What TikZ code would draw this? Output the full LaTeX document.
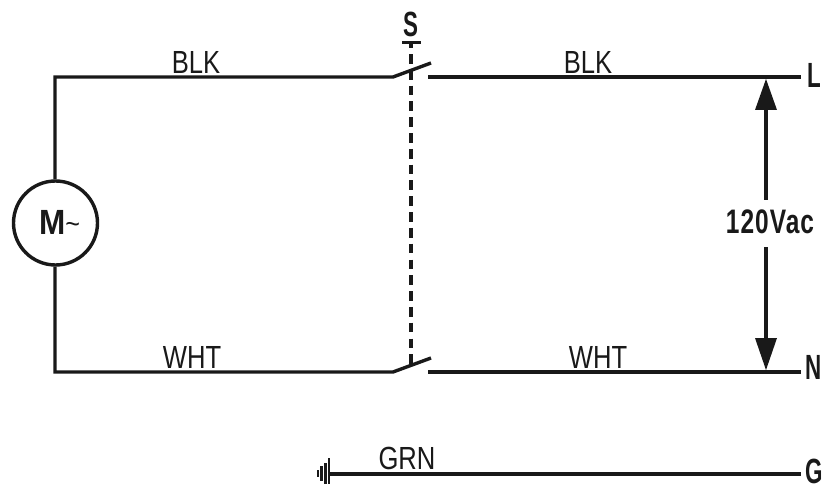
\documentclass[tikz,border=0pt]{standalone}
\usepackage{fontspec}
\setmainfont[FakeStretch=0.8]{Liberation Sans}
\newfontfamily\condfont[FakeStretch=0.64]{Liberation Sans}
\newfontfamily\voltfont[FakeStretch=0.72,LetterSpace=3]{Liberation Sans}
\newfontfamily\motfont[FakeStretch=0.9]{Liberation Sans}
\usetikzlibrary{calc}
\begin{document}
\begin{tikzpicture}[x=1pt,y=-1pt,
  wire/.style={line width=3.4pt,draw=black!90},
  lbl/.style={inner sep=0pt,font=\fontsize{32}{32}\selectfont,text=black!90},
  blbl/.style={inner sep=0pt,font=\fontsize{35}{35}\selectfont\condfont\bfseries,text=black!90},
  vlbl/.style={inner sep=0pt,font=\fontsize{34}{34}\selectfont\voltfont\bfseries,text=black!90},
  mlbl/.style={inner sep=0pt,font=\fontsize{35}{35}\selectfont\motfont\bfseries,text=black!90},
  motor/.style={circle,draw=black!90,line width=3.4pt,minimum size=84pt,inner sep=0pt},
  meas/.style={line width=4.5pt,draw=black!90},
  gbar/.style={line width=2.6pt,draw=black!90},
  headfill/.style={fill=black!90,draw=none}]
\useasboundingbox (0,0) rectangle (825,484);
\coordinate (tl) at (55,77);
\coordinate (bl) at (55,372);
\node[motor] (m) at (55.5,223) {};
\node[mlbl,anchor=base west] (mlabel) at (39,234) {M\raisebox{1pt}{\fontsize{28}{28}\selectfont\mdseries\textasciitilde}};
\coordinate (sw1a) at (393,77);
\coordinate (sw1b) at (431,63);
\coordinate (sw1c) at (428,77);
\coordinate (sw2a) at (393,372);
\coordinate (sw2b) at (431,358);
\coordinate (sw2c) at (428,372);
\coordinate (lend) at (801,77);
\coordinate (nend) at (801,372);
\coordinate (gstart) at (329,474);
\coordinate (gend) at (801,474);
% wires
\draw[wire] (m.north -| tl) -- (tl) -- (sw1a) -- (sw1b);
\draw[wire] (sw1c) -- (lend);
\draw[wire] (m.south -| bl) -- (bl) -- (sw2a) -- (sw2b);
\draw[wire] (sw2c) -- (nend);
\draw[wire] (gstart) -- (gend);
% ganged link
\coordinate (ta) at (402,42.5);
\coordinate (tb) at (421,42.5);
\coordinate (dt) at (411,44);
\coordinate (de) at (411,364);
\draw[wire] (ta) -- (tb);
\draw[wire,dash pattern=on 9.7pt off 6.1pt,dash phase=5.7pt] (dt) -- (de);
% ground
\draw[gbar] (329,458) -- (329,484);
\draw[gbar] (325.5,463) -- (325.5,484);
\draw[gbar] (321.7,466) -- (321.7,481);
\draw[gbar] (318,470) -- (318,477);
% voltage arrow
\coordinate (atop) at (766,79);
\coordinate (abot) at (766,370);
\coordinate (s1) at (766,200);
\coordinate (s2) at (766,247);
\draw[meas] ($(atop)+(0,25)$) -- (s1);
\draw[meas] (s2) -- ($(abot)+(0,-25)$);
\fill[headfill] (atop) -- (777,110) -- (755,110) -- cycle;
\fill[headfill] (abot) -- (777,338) -- (755,338) -- cycle;
% labels
\node[lbl] (blk1) at (196,62) {BLK};
\node[lbl] (blk2) at (588,62) {BLK};
\node[lbl] (wht1) at (192,357) {WHT};
\node[lbl] (wht2) at (598,357) {WHT};
\node[lbl] (grn) at (407,458) {GRN};
\node[blbl] (s) at (411,24) {S};
\node[blbl] (l) at (814,75) {L};
\node[blbl] (n) at (814,367.5) {N};
\node[blbl] (g) at (814,471) {G};
\node[vlbl] (v) at (770,221.5) {120Vac};
\end{tikzpicture}
\end{document}
